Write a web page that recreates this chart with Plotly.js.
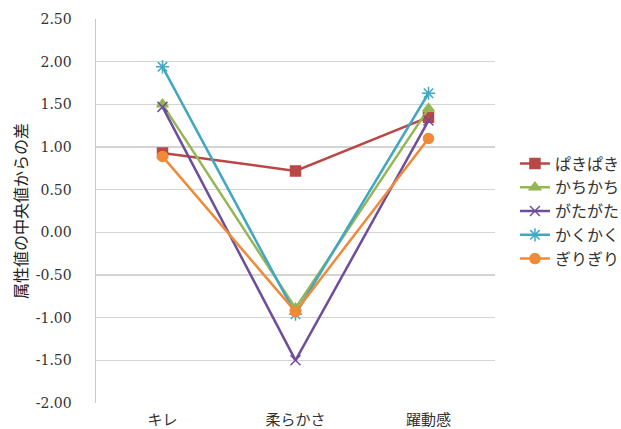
<!DOCTYPE html>
<html>
<head>
<meta charset="utf-8">
<script src="https://cdn.plot.ly/plotly-3.0.1.min.js"></script>
<style>
  html, body { margin: 0; padding: 0; background: #fff; }
  #chart { width: 621px; height: 429px; }
</style>
</head>
<body>
<div id="chart"></div>
<script>
// Attribute categories on the x axis
const categories = ['キレ', '柔らかさ', '躍動感'];

// Difference from the median, per onomatopoeia
const pakipaki = [0.93, 0.72, 1.35];
const kachikachi = [1.50, -0.89, 1.45];
const gatagata = [1.47, -1.50, 1.31];
const kakukaku = [1.94, -0.96, 1.63];
const girigiri = [0.89, -0.93, 1.10];

const seriesNames = ['ぱきぱき', 'かちかち', 'がたがた', 'かくかく', 'ぎりぎり'];
const seriesValues = [pakipaki, kachikachi, gatagata, kakukaku, girigiri];
const seriesColors = ['#B84845', '#94B653', '#6E4E9A', '#41A7C2', '#F08A3A'];
const seriesSymbols = ['square', 'triangle-up', 'x-thin-open', 'asterisk-open', 'circle'];
const seriesSizes = [10, 10, 10, 11, 10];

const yTicks = [2.5, 2.0, 1.5, 1.0, 0.5, 0.0, -0.5, -1.0, -1.5, -2.0];
const yTickText = ['2.50', '2.00', '1.50', '1.00', '0.50', '0.00', '-0.50', '-1.00', '-1.50', '-2.00'];

const traces = seriesNames.map((name, i) => ({
  type: 'scatter',
  mode: 'lines+markers',
  name: name,
  x: categories,
  y: seriesValues[i],
  line: { color: seriesColors[i], width: 2.5 },
  marker: {
    symbol: seriesSymbols[i],
    size: seriesSizes[i],
    color: seriesColors[i],
    line: { color: seriesColors[i], width: 1.5 }
  }
}));

const layout = {
  width: 621,
  height: 429,
  margin: { l: 96, r: 126, t: 19, b: 26, autoexpand: false },
  paper_bgcolor: '#ffffff',
  plot_bgcolor: '#ffffff',
  showlegend: true,
  legend: {
    x: 1.05, xanchor: 'left',
    y: 0.5, yanchor: 'middle',
    font: { family: 'Noto Sans CJK JP', size: 16, color: '#333' },
    tracegroupgap: 0,
    itemwidth: 30
  },
  xaxis: {
    type: 'category',
    range: [-0.5, 2.5],
    showgrid: false,
    zeroline: false,
    showline: false,
    ticks: '',
    ticklabelstandoff: 6,
    tickfont: { family: 'Noto Sans CJK JP', size: 15, color: '#333' },
    fixedrange: true
  },
  yaxis: {
    range: [-2.0, 2.5],
    tickvals: yTicks,
    ticktext: yTickText,
    showgrid: true,
    gridcolor: '#D4D4D4',
    gridwidth: 1.5,
    zeroline: false,
    showline: true,
    linecolor: '#C8C8C8',
    linewidth: 1.5,
    ticks: '',
    ticklabelstandoff: 20,
    tickfont: { family: 'DejaVu Serif', size: 14, color: '#333' },
    title: {
      text: '属性値の中央値からの差',
      font: { family: 'Noto Sans CJK JP', size: 16, color: '#222' },
      standoff: 4
    },
    fixedrange: true
  }
};

Plotly.newPlot('chart', traces, layout, { displayModeBar: false, staticPlot: true });
</script>
</body>
</html>
